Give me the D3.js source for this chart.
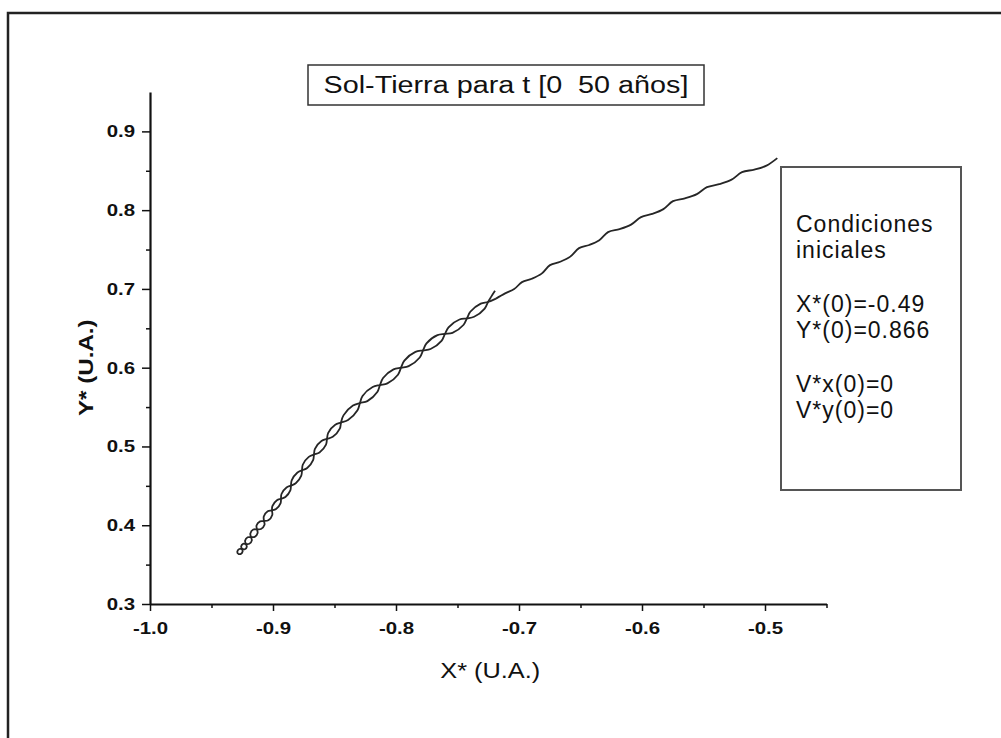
<!DOCTYPE html>
<html>
<head>
<meta charset="utf-8">
<script src="https://cdn.jsdelivr.net/npm/d3@7"></script>
<style>
  body { margin: 0; background: #fff; }
  svg { font-family: "Liberation Sans", Arial, sans-serif; }
</style>
</head>
<body>
<div id="chart"></div>
<script>
// ticks
const xTicks = [-1.0, -0.9, -0.8, -0.7, -0.6, -0.5];
const xMinor = [-0.95, -0.85, -0.75, -0.65, -0.55, -0.45];
const yTicks = [0.3, 0.4, 0.5, 0.6, 0.7, 0.8, 0.9];
const yMinor = [0.35, 0.45, 0.55, 0.65, 0.75, 0.85];

const titulo = 'Sol-Tierra para t [0  50 años]';
const condiciones = [
  ['Condiciones', 'iniciales'],
  ['X*(0)=-0.49', 'Y*(0)=0.866'],
  ['V*x(0)=0', 'V*y(0)=0']
];

// tramo simple: desde X*(0), Y*(0) bajando hasta el comienzo de la trenza
const tramoInicial = [
  [-0.490, 0.866], [-0.4988, 0.8565], [-0.5087, 0.8515], [-0.5187, 0.8482],
  [-0.5272, 0.8387], [-0.5372, 0.8330], [-0.5472, 0.8292],
  [-0.5554, 0.8203], [-0.5651, 0.8150], [-0.5748, 0.8114],
  [-0.5826, 0.8013], [-0.5917, 0.7952], [-0.6008, 0.7911],
  [-0.6089, 0.7816], [-0.6182, 0.7759], [-0.6276, 0.7721],
  [-0.6347, 0.7619], [-0.6429, 0.7558], [-0.6512, 0.7518],
  [-0.6583, 0.7410], [-0.6665, 0.7345], [-0.6748, 0.7302],
  [-0.6816, 0.7194], [-0.6896, 0.7129], [-0.6976, 0.7086],
  [-0.7039, 0.6998], [-0.7113, 0.6944], [-0.7187, 0.6877]
];

// trenza, hebra de ida (listada desde la punta hacia arriba)
const ida = [
  [-0.9285, 0.3635],
  [-0.9290, 0.3667], [-0.9274, 0.3699], [-0.9252, 0.3698],
  [-0.9229, 0.3695], [-0.9213, 0.3727], [-0.9220, 0.3761],
  [-0.9227, 0.3803], [-0.9206, 0.3847], [-0.9179, 0.3849],
  [-0.9149, 0.3852], [-0.9125, 0.3902], [-0.9130, 0.3948],
  [-0.9134, 0.3997], [-0.9105, 0.4049], [-0.9073, 0.4053],
  [-0.9038, 0.4064], [-0.9006, 0.4131], [-0.9008, 0.4188],
  [-0.9005, 0.4243], [-0.8968, 0.4317], [-0.8935, 0.4336],
  [-0.8899, 0.4359], [-0.8859, 0.4442], [-0.8854, 0.4503],
  [-0.8848, 0.4570], [-0.8803, 0.4667], [-0.8764, 0.4697],
  [-0.8722, 0.4726], [-0.8674, 0.4826], [-0.8667, 0.4897],
  [-0.8659, 0.4970], [-0.8606, 0.5069], [-0.8561, 0.5096],
  [-0.8514, 0.5122], [-0.8457, 0.5226], [-0.8447, 0.5303],
  [-0.8427, 0.5395], [-0.8350, 0.5519], [-0.8293, 0.5551],
  [-0.8233, 0.5576], [-0.8152, 0.5691], [-0.8130, 0.5780],
  [-0.8105, 0.5869], [-0.8020, 0.5979], [-0.7959, 0.6000],
  [-0.7897, 0.6020], [-0.7807, 0.6130], [-0.7780, 0.6220],
  [-0.7752, 0.6308], [-0.7663, 0.6413], [-0.7602, 0.6429],
  [-0.7541, 0.6443], [-0.7452, 0.6542], [-0.7423, 0.6626],
  [-0.7396, 0.6710], [-0.7311, 0.6814], [-0.7252, 0.6834],
  [-0.7187, 0.6877]
];

// trenza, hebra de vuelta (desde la punta hasta el final t = 50 años)
const vuelta = [
  [-0.9285, 0.3635],
  [-0.9264, 0.3634], [-0.9247, 0.3666], [-0.9252, 0.3698],
  [-0.9259, 0.3732], [-0.9243, 0.3764], [-0.9220, 0.3761],
  [-0.9193, 0.3764], [-0.9172, 0.3808], [-0.9179, 0.3849],
  [-0.9184, 0.3895], [-0.9160, 0.3945], [-0.9130, 0.3948],
  [-0.9098, 0.3952], [-0.9069, 0.4005], [-0.9073, 0.4053],
  [-0.9075, 0.4110], [-0.9043, 0.4178], [-0.9008, 0.4188],
  [-0.8975, 0.4207], [-0.8938, 0.4281], [-0.8935, 0.4336],
  [-0.8931, 0.4397], [-0.8890, 0.4480], [-0.8854, 0.4503],
  [-0.8815, 0.4533], [-0.8770, 0.4630], [-0.8764, 0.4697],
  [-0.8758, 0.4768], [-0.8709, 0.4868], [-0.8667, 0.4897],
  [-0.8622, 0.4924], [-0.8569, 0.5023], [-0.8561, 0.5096],
  [-0.8551, 0.5173], [-0.8494, 0.5277], [-0.8447, 0.5303],
  [-0.8390, 0.5335], [-0.8313, 0.5459], [-0.8293, 0.5551],
  [-0.8272, 0.5641], [-0.8190, 0.5755], [-0.8130, 0.5780],
  [-0.8070, 0.5801], [-0.7984, 0.5911], [-0.7959, 0.6000],
  [-0.7932, 0.6090], [-0.7842, 0.6200], [-0.7780, 0.6220],
  [-0.7719, 0.6237], [-0.7630, 0.6341], [-0.7602, 0.6429],
  [-0.7573, 0.6513], [-0.7484, 0.6612], [-0.7423, 0.6626],
  [-0.7365, 0.6646], [-0.7279, 0.6750], [-0.7252, 0.6834],
  [-0.7228, 0.6896], [-0.7195, 0.6976]
];

const W = 1001, H = 738;
const margin = { top: 92, left: 150 };
const width = 676.5, height = 512;

// la figura original está algo estirada en horizontal
const estirar = (sel, k) => sel.each(function () {
  const w = this.getComputedTextLength();
  d3.select(this).attr('textLength', w * k).attr('lengthAdjust', 'spacingAndGlyphs');
});

const svg = d3.select('#chart').append('svg')
  .attr('width', W)
  .attr('height', H);

svg.append('rect').attr('width', W).attr('height', H).attr('fill', '#fff');

// marco exterior (solo arriba e izquierda se ven)
svg.append('path')
  .attr('d', `M8,${H} L8,13 L${W},13`)
  .attr('fill', 'none')
  .attr('stroke', '#222')
  .attr('stroke-width', 2.5);

const g = svg.append('g').attr('transform', `translate(${margin.left},${margin.top})`);

const x = d3.scaleLinear().domain([-1.0, -0.45]).range([0, width]);
const y = d3.scaleLinear().domain([0.3, 0.95]).range([height, 0]);

const fmt = d => d.toFixed(1);

// ejes
g.append('g')
  .attr('transform', `translate(0,${height})`)
  .call(d3.axisBottom(x).tickValues(xTicks).tickSize(7).tickSizeOuter(0).tickPadding(11).tickFormat(fmt));
g.append('g')
  .attr('transform', `translate(0,${height})`)
  .call(d3.axisBottom(x).tickValues(xMinor).tickSize(4).tickFormat(''))
  .select('.domain').remove();

g.append('g')
  .call(d3.axisLeft(y).tickValues(yTicks).tickSize(8).tickSizeOuter(0).tickPadding(7).tickFormat(fmt));
g.append('g')
  .call(d3.axisLeft(y).tickValues(yMinor).tickSize(4).tickFormat(''))
  .select('.domain').remove();

g.selectAll('.domain').attr('stroke', '#111').attr('stroke-width', 2.2);
g.selectAll('.tick line').attr('stroke', '#111').attr('stroke-width', 1.5);
g.selectAll('.tick text')
  .attr('fill', '#111')
  .style('font-size', '17px')
  .style('font-weight', 'bold')
  .style('font-family', '"Liberation Sans", Arial, sans-serif')
  .call(estirar, 1.2);

// rótulos de ejes
g.append('text')
  .attr('x', width / 2 + 2)
  .attr('y', height + 74)
  .attr('text-anchor', 'middle')
  .style('font-size', '22px')
  .attr('fill', '#111')
  .text('X* (U.A.)')
  .call(estirar, 1.15);

g.append('text')
  .attr('transform', `translate(${-57},${y(0.6)}) rotate(-90)`)
  .attr('text-anchor', 'middle')
  .style('font-size', '21px')
  .style('font-weight', 'bold')
  .attr('fill', '#111')
  .text('Y* (U.A.)')
  .call(estirar, 1.15);

// trayectoria
const linea = d3.line()
  .x(d => x(d[0]))
  .y(d => y(d[1]))
  .curve(d3.curveCatmullRom.alpha(0.5));

g.selectAll('.tramo')
  .data([tramoInicial, ida, vuelta])
  .enter().append('path')
  .attr('class', 'tramo')
  .attr('d', linea)
  .attr('fill', 'none')
  .attr('stroke', '#262626')
  .attr('stroke-width', 1.8)
  .attr('stroke-linejoin', 'round');

// caja del título
svg.append('rect')
  .attr('x', 308).attr('y', 65)
  .attr('width', 396).attr('height', 40)
  .attr('fill', '#fff')
  .attr('stroke', '#333')
  .attr('stroke-width', 1.5);

svg.append('text')
  .attr('x', 506)
  .attr('y', 93)
  .attr('text-anchor', 'middle')
  .style('font-size', '23px')
  .style('white-space', 'pre')
  .attr('fill', '#111')
  .text(titulo)
  .call(estirar, 1.25);

// caja de condiciones iniciales
svg.append('rect')
  .attr('x', 781).attr('y', 167)
  .attr('width', 180).attr('height', 323)
  .attr('fill', '#fff')
  .attr('stroke', '#555')
  .attr('stroke-width', 2);

const leyenda = svg.append('g').attr('transform', 'translate(796,232)');
condiciones.forEach((grupo, gi) => {
  grupo.forEach((t, i) => {
    leyenda.append('text')
      .attr('x', 0)
      .attr('y', gi * 80 + i * 26)
      .style('font-size', '23px')
      .style('letter-spacing', '1px')
      .attr('fill', '#111')
      .text(t);
  });
});
</script>
</body>
</html>
